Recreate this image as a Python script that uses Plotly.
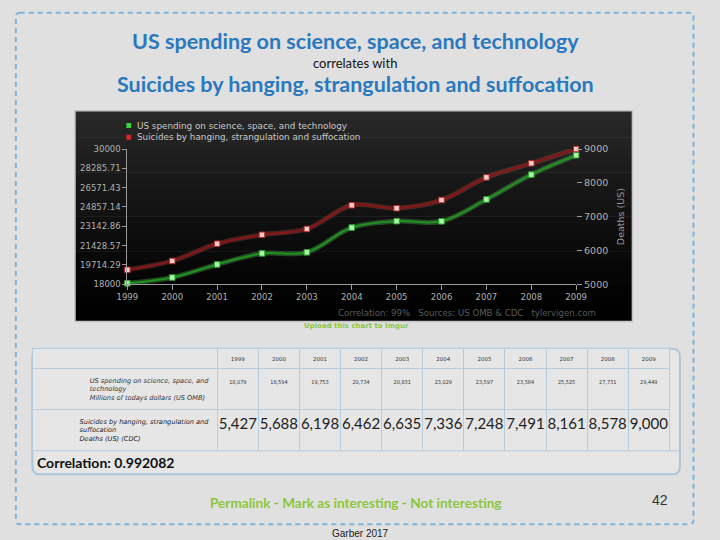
import plotly.graph_objects as go

# ---------------- data ----------------
years = [1999, 2000, 2001, 2002, 2003, 2004, 2005, 2006, 2007, 2008, 2009]
spending = [18079, 18594, 19753, 20734, 20831, 23029, 23597, 23584, 25525, 27731, 29449]
suicides = [5427, 5688, 6198, 6462, 6635, 7336, 7248, 7491, 8161, 8578, 9000]
left_tickvals = [18000, 19714.29, 21428.57, 23142.86, 24857.14, 26571.43, 28285.71, 30000]
left_ticktext = ["18000", "19714.29", "21428.57", "23142.86", "24857.14", "26571.43", "28285.71", "30000"]
right_tickvals = [5000, 6000, 7000, 8000, 9000]
series_names = ["US spending on science, space, and technology",
                "Suicides by hanging, strangulation and suffocation"]
row_labels = ["<i>US spending on science, space, and<br>technology<br>Millions of todays dollars (US OMB)</i>",
              "<i>Suicides by hanging, strangulation and<br>suffocation<br>Deaths (US) (CDC)</i>"]
correlation = 0.992082

W, H = 720, 540
def px(X): return X / W
def py(Y): return 1 - Y / H

LATO = "Lato, Open Sans, sans-serif"
SANS = "DejaVu Sans, sans-serif"
COND = "DejaVu Sans Condensed, DejaVu Sans, sans-serif"
BLUE = "#2a79bd"
GREEN_TXT = "#8cc63e"
GRID = "#b4cde0"
CELL = "#e6e6e6"
BG = "#e0e0e0"
ncol = len(years)

fig = go.Figure()

# glow + core lines
fig.add_trace(go.Scatter(x=years, y=spending, mode="lines", line=dict(color="rgba(110,230,110,0.28)", width=5, shape="spline"),
                         hoverinfo="skip", showlegend=False, cliponaxis=False))
fig.add_trace(go.Scatter(x=years, y=spending, mode="lines+markers", name=series_names[0],
                         line=dict(color="#1f921f", width=2, shape="spline"),
                         marker=dict(symbol="square", size=5.5, color="#aef5ae", line=dict(color="#2aa82a", width=1)),
                         showlegend=False, cliponaxis=False))
fig.add_trace(go.Scatter(x=years, y=suicides, yaxis="y2", mode="lines", line=dict(color="rgba(220,90,90,0.28)", width=5, shape="spline"),
                         hoverinfo="skip", showlegend=False, cliponaxis=False))
fig.add_trace(go.Scatter(x=years, y=suicides, yaxis="y2", mode="lines+markers", name=series_names[1],
                         line=dict(color="#841616", width=2.2, shape="spline"),
                         marker=dict(symbol="square", size=5.5, color="#f7cccc", line=dict(color="#b02a2a", width=1)),
                         showlegend=False, cliponaxis=False))

# table: header (years) + spending row
fig.add_trace(go.Table(
    domain=dict(x=[px(22), px(680)], y=[py(412), py(350)]),
    columnwidth=[191] + [42.45] * ncol,
    header=dict(values=[""] + [str(y) for y in years], height=20, fill_color=CELL, line=dict(color=GRID, width=1),
                font=dict(size=5.5, color="#333", family=SANS), align="center"),
    cells=dict(values=[[row_labels[0]]] + [[f"<br>{s:,}"] for s in spending], height=41, fill_color=CELL,
               line=dict(color=GRID, width=1),
               font=dict(size=[6.6] + [5.5] * ncol, color="#333", family=[SANS] + [COND] * ncol),
               align=["right"] + ["center"] * ncol),
))
# table: suicides row
fig.add_trace(go.Table(
    domain=dict(x=[px(22), px(680)], y=[py(454), py(412)]),
    columnwidth=[191] + [42.45] * ncol,
    header=dict(values=[row_labels[1]] + [f"{d:,}" for d in suicides], height=42, fill_color=CELL,
                line=dict(color=GRID, width=1),
                font=dict(size=[6.6] + [15] * ncol, color="#222", family=[SANS] + [LATO] * ncol),
                align=["right"] + ["center"] * ncol),
))

shapes = []
# dashed slide border
L_, R_, T_, B_ = 5, 704, 7, 529
shapes.append(dict(type="path", xref="paper", yref="paper", layer="below",
                   path=f"M {px(L_+4)} {py(T_)} L {px(R_-4)} {py(T_)} Q {px(R_)} {py(T_)} {px(R_)} {py(T_+4)} L {px(R_)} {py(B_-4)} "
                        f"Q {px(R_)} {py(B_)} {px(R_-4)} {py(B_)} L {px(L_+4)} {py(B_)} Q {px(L_)} {py(B_)} {px(L_)} {py(B_-4)} "
                        f"L {px(L_)} {py(T_+4)} Q {px(L_)} {py(T_)} {px(L_+4)} {py(T_)} Z",
                   line=dict(color="#7eb4da", width=2, dash="5px,4px")))
# dark chart panel with vertical gradient
N = 24
top, bot = 107, 322
for i in range(N):
    t = i / (N - 1)
    c = int(40 * (1 - t) ** 1.3 + 1)
    y0 = top + (bot - top) * i / N
    y1 = top + (bot - top) * (i + 1) / N + 0.6
    shapes.append(dict(type="rect", xref="paper", yref="paper", layer="below",
                       x0=px(66), x1=px(641), y0=py(y0), y1=py(min(y1, bot)),
                       fillcolor=f"rgb({c},{c},{c})", line=dict(width=0)))
shapes.append(dict(type="rect", xref="paper", yref="paper", layer="below",
                   x0=px(66), x1=px(641), y0=py(107), y1=py(322), line=dict(color="#c4c4c4", width=1.5)))
# legend squares
shapes.append(dict(type="rect", xref="paper", yref="paper", x0=px(119), x1=px(124), y0=py(119.5), y1=py(124.5),
                   fillcolor="#3ed43e", line=dict(width=0)))
shapes.append(dict(type="rect", xref="paper", yref="paper", x0=px(119), x1=px(124), y0=py(131.5), y1=py(136.5),
                   fillcolor="#d42a2a", line=dict(width=0)))
# table rounded box
r = 8
shapes.append(dict(type="path", xref="paper", yref="paper", layer="below",
                   path=f"M {px(22+r)} {py(350)} L {px(690-r)} {py(350)} Q {px(690)} {py(350)} {px(690)} {py(350+r)} "
                        f"L {px(690)} {py(478-r)} Q {px(690)} {py(478)} {px(690-r)} {py(478)} L {px(22+r)} {py(478)} "
                        f"Q {px(22)} {py(478)} {px(22)} {py(478-r)} L {px(22)} {py(350+r)} Q {px(22)} {py(350)} {px(22+r)} {py(350)} Z",
                   fillcolor=CELL, line=dict(color="#a9c6dc", width=2)))
shapes.append(dict(type="line", xref="paper", yref="paper", x0=px(22), x1=px(690), y0=py(454), y1=py(454),
                   line=dict(color=GRID, width=1)))

annotations = [
    dict(text="<b>US spending on science, space, and technology</b>", x=px(355), y=py(36), font=dict(size=21.5, color=BLUE, family=LATO)),
    dict(text="correlates with", x=px(355), y=py(58), font=dict(size=13, color="#111", family=LATO)),
    dict(text="<b>Suicides by hanging, strangulation and suffocation</b>", x=px(355), y=py(80), font=dict(size=21.5, color=BLUE, family=LATO)),
    dict(text=series_names[0], x=px(128), y=py(122), xanchor="left", font=dict(size=8.8, color="#c8c8c8", family=SANS)),
    dict(text=series_names[1], x=px(128), y=py(134), xanchor="left", font=dict(size=8.8, color="#c8c8c8", family=SANS)),
    dict(text="Correlation: 99%&nbsp;&nbsp;&nbsp;Sources: US OMB &amp; CDC&nbsp;&nbsp;&nbsp;tylervigen.com",
         x=px(606), y=py(313), xanchor="right", font=dict(size=8.6, color="#5a5a5a", family=SANS)),
    dict(text="<b>Upload this chart to Imgur</b>", x=px(356), y=py(327), font=dict(size=7, color=GREEN_TXT, family=SANS)),
    dict(text=f"<b>Correlation: {correlation}</b>", x=px(25), y=py(466), xanchor="left", font=dict(size=14, color="#111", family=LATO)),
    dict(text="<b>Permalink - Mark as interesting - Not interesting</b>", x=px(355), y=py(507), font=dict(size=13.6, color=GREEN_TXT, family=LATO)),
    dict(text="42", x=px(669), y=py(504), font=dict(size=14, color="#333", family="Liberation Sans, Arial, sans-serif")),
    dict(text="Garber 2017", x=px(361), y=py(531), yanchor="top", font=dict(size=10, color="#222", family="Liberation Sans, Arial, sans-serif")),
]
for a in annotations:
    a.update(xref="paper", yref="paper", showarrow=False)
    a.setdefault("xanchor", "center")
    a.setdefault("yanchor", "middle")

tickfont = dict(size=8.5, color="#b0b0b0", family=SANS)
fig.update_layout(
    width=W, height=H, margin=dict(l=0, r=0, t=0, b=0),
    paper_bgcolor=BG, plot_bgcolor="rgba(0,0,0,0)",
    showlegend=False, shapes=shapes, annotations=annotations,
    xaxis=dict(domain=[px(120), px(583)], range=[1999, 2009], tickvals=years, ticks="outside", ticklen=5,
               tickcolor="#9a9a9a", showline=True, linecolor="#9a9a9a", linewidth=1, showgrid=False, zeroline=False,
               tickfont=tickfont, fixedrange=True),
    yaxis=dict(domain=[py(284), py(146)], range=[18000, 30000], tickvals=left_tickvals, ticktext=left_ticktext,
               ticks="outside", ticklen=4, tickcolor="#9a9a9a", showline=True, linecolor="#9a9a9a", linewidth=1,
               showgrid=False, zeroline=False, tickfont=tickfont, fixedrange=True),
    yaxis2=dict(overlaying="y", side="right", range=[5000, 9000], tickvals=right_tickvals, ticks="outside", ticklen=5,
                tickcolor="#9a9a9a", showline=False, showgrid=False, zeroline=False,
                tickfont=dict(size=9.5, color="#b0b0b0", family=SANS),
                title=dict(text="Deaths (US)", font=dict(size=9.5, color="#9a9a9a", family=SANS), standoff=10), fixedrange=True),
)

fig.write_html("out.html", config={"displayModeBar": False, "staticPlot": True},
               post_script=("document.body.style.margin='0px';document.body.style.overflow='hidden';"
                            "document.body.style.background='%s';document.documentElement.style.background='%s';" % (BG, BG)))
